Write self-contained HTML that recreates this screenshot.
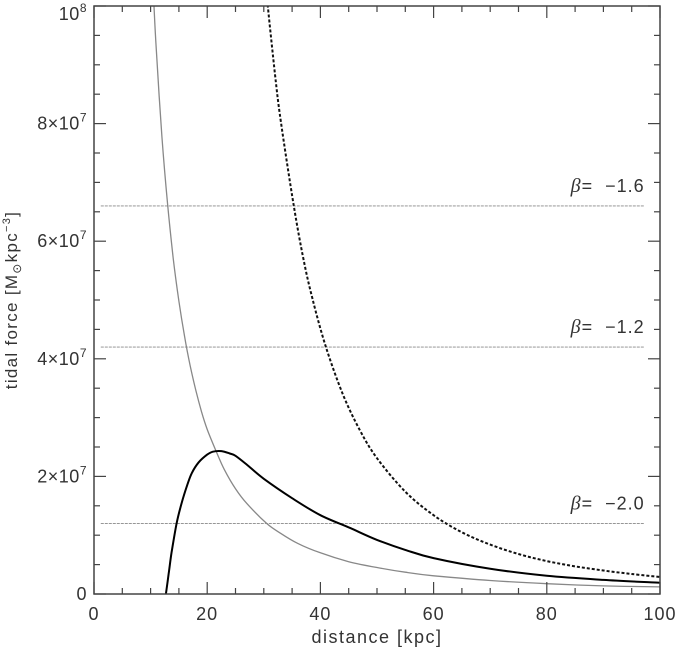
<!DOCTYPE html>
<html><head><meta charset="utf-8"><style>
html,body{margin:0;padding:0;background:#fff;}
svg{display:block;font-family:"Liberation Sans",sans-serif;}
</style></head><body>
<svg id="chart" width="677" height="651" viewBox="0 0 677 651" xmlns="http://www.w3.org/2000/svg">
<defs><clipPath id="plotclip"><rect x="94" y="6" width="566" height="588"/></clipPath></defs>
<g id="grid"></g>
<g id="series" clip-path="url(#plotclip)"></g>
<rect x="94" y="6" width="566" height="588" fill="none" stroke="#444" stroke-width="1.5"/>
<g id="axes"></g>
<text x="377" y="643" font-size="18" text-anchor="middle" fill="#333" letter-spacing="1.5">distance [kpc]</text>
<text transform="translate(17,300) rotate(-90)" font-size="17" text-anchor="middle" fill="#333" letter-spacing="1.3">tidal force [M<tspan font-size="12" dy="4">⊙</tspan><tspan dy="-4">kpc</tspan><tspan font-size="11" dy="-7">−3</tspan><tspan dy="7">]</tspan></text>
</svg>
<script>
const xTicks = [0, 20, 40, 60, 80, 100];
const yTicks = [0, 2, 4, 6, 8, 10];
const yTickLabels = ["0", "2×10", "4×10", "6×10", "8×10", "10"];
const yTickExps = ["", "7", "7", "7", "7", "8"];
const grayX = [10, 10.5, 11, 12, 13, 14, 15, 16, 17, 18, 19, 20, 21.7, 23, 25, 27, 30.5, 33, 36, 40, 45, 50, 55, 60, 70, 80, 90, 100];
const grayY = [11.2, 10.2, 9.26, 7.78, 6.63, 5.71, 4.98, 4.38, 3.88, 3.46, 3.1, 2.8, 2.4, 2.12, 1.79, 1.54, 1.2, 1.03, 0.86, 0.7, 0.55, 0.45, 0.37, 0.31, 0.23, 0.175, 0.138, 0.12];
const blackX = [12.7, 13.2, 13.7, 14.6, 15.5, 16.5, 17.3, 18.5, 20, 21, 22.5, 24, 25, 27, 30, 35, 40, 45.3, 50, 55, 60, 70, 80, 90, 100];
const blackY = [0, 0.35, 0.7, 1.2, 1.55, 1.86, 2.06, 2.24, 2.37, 2.42, 2.43, 2.39, 2.35, 2.2, 1.96, 1.63, 1.34, 1.12, 0.92, 0.75, 0.61, 0.43, 0.31, 0.24, 0.19];
const dashX = [30, 30.7, 32, 33, 35.3, 37, 38.6, 41, 44, 47, 50, 55, 60, 65, 70, 75, 80, 85, 90, 95, 100];
const dashY = [10.7, 10.0, 8.82, 8.04, 6.6, 5.7, 5.02, 4.19, 3.39, 2.78, 2.31, 1.74, 1.34, 1.05, 0.84, 0.68, 0.56, 0.47, 0.4, 0.34, 0.29];
const betaLabels = ["−1.6", "−1.2", "−2.0"];
const betaValues = [6.6, 4.2, 1.2];

const NS = "http://www.w3.org/2000/svg";
function xs(k){ return 94 + k * 5.66; }
function ys(v){ return 594 - v * 58.8; }
function mk(tag, attrs, parent){ const e = document.createElementNS(NS, tag); for (const k in attrs) e.setAttribute(k, attrs[k]); parent.appendChild(e); return e; }
const axes = document.getElementById('axes');
const grid = document.getElementById('grid');
const series = document.getElementById('series');

for (let k = 0; k <= 100; k += 5) {
  const major = k % 20 === 0; const L = major ? 12 : 6;
  const t1 = mk('line', {x1: xs(k), x2: xs(k), y1: 594, y2: 594 - L, stroke: '#444', 'stroke-width': 1.2}, axes);
  
  
  const t2 = mk('line', {x1: xs(k), x2: xs(k), y1: 6, y2: 6 + L, stroke: '#444', 'stroke-width': 1.2}, axes);
  
  
}
xTicks.forEach(k => {
  const t = mk('text', {x: xs(k), y: 620, 'font-size': 18, 'text-anchor': 'middle', fill: '#333', 'letter-spacing': 1}, axes);
  
  
  t.textContent = k;
});
for (let i = 0; i <= 20; i++) {
  const v = i * 0.5; const major = i % 4 === 0; const L = major ? 12 : 6;
  const t1 = mk('line', {x1: 94, x2: 94 + L, y1: ys(v), y2: ys(v), stroke: '#444', 'stroke-width': 1.2}, axes);
  
  
  const t2 = mk('line', {x1: 660, x2: 660 - L, y1: ys(v), y2: ys(v), stroke: '#444', 'stroke-width': 1.2}, axes);
  
  
}
yTicks.forEach((v, i) => {
  const t = mk('text', {x: 87, y: ys(v) + 6 + (v === 10 ? 8 : 0), 'font-size': 18, 'text-anchor': 'end', fill: '#333', 'letter-spacing': 0.5}, axes);
  
  
  t.textContent = yTickLabels[i];
  if (yTickExps[i]) {
    const s = mk('tspan', {'font-size': 12, dy: -8}, t);
    s.textContent = yTickExps[i];
  }
});
betaValues.forEach((v, i) => {
  const l = mk('line', {x1: xs(1.2), x2: xs(97.3), y1: ys(v), y2: ys(v), stroke: '#888', 'stroke-width': 0.8, 'stroke-dasharray': '3,1'}, grid);
  
  
  const t = mk('text', {x: xs(97.3), y: ys(v) - 14, 'font-size': 18, 'text-anchor': 'end', fill: '#333', 'letter-spacing': 1}, grid);
  
  
  const b = mk('tspan', {'font-style': 'italic', 'font-family': 'Liberation Serif, serif', 'font-size': 20}, t);
  b.textContent = 'β';
  const r = mk('tspan', {}, t);
  r.textContent = '=\u00a0\u00a0' + betaLabels[i];
});
function path(X, Y){
  const P = X.map((k, i) => [xs(k), ys(Y[i])]);
  let d = 'M' + P[0][0].toFixed(1) + ',' + P[0][1].toFixed(1);
  for (let i = 0; i < P.length - 1; i++) {
    const p0 = P[Math.max(0, i - 1)], p1 = P[i], p2 = P[i + 1], p3 = P[Math.min(P.length - 1, i + 2)];
    const c1 = [p1[0] + (p2[0] - p0[0]) / 6, p1[1] + (p2[1] - p0[1]) / 6];
    const c2 = [p2[0] - (p3[0] - p1[0]) / 6, p2[1] - (p3[1] - p1[1]) / 6];
    d += ' C' + c1[0].toFixed(1) + ',' + c1[1].toFixed(1) + ' ' + c2[0].toFixed(1) + ',' + c2[1].toFixed(1) + ' ' + p2[0].toFixed(1) + ',' + p2[1].toFixed(1);
  }
  return d;
}
const g = mk('path', {d: path(grayX, grayY), fill: 'none', stroke: '#888', 'stroke-width': 1.3}, series);


const d = mk('path', {d: path(dashX, dashY), fill: 'none', stroke: '#111', 'stroke-width': 2, 'stroke-dasharray': '3,2'}, series);


const b = mk('path', {d: path(blackX, blackY), fill: 'none', stroke: '#000', 'stroke-width': 2, 'stroke-linejoin': 'round'}, series);


</script>
</body></html>
